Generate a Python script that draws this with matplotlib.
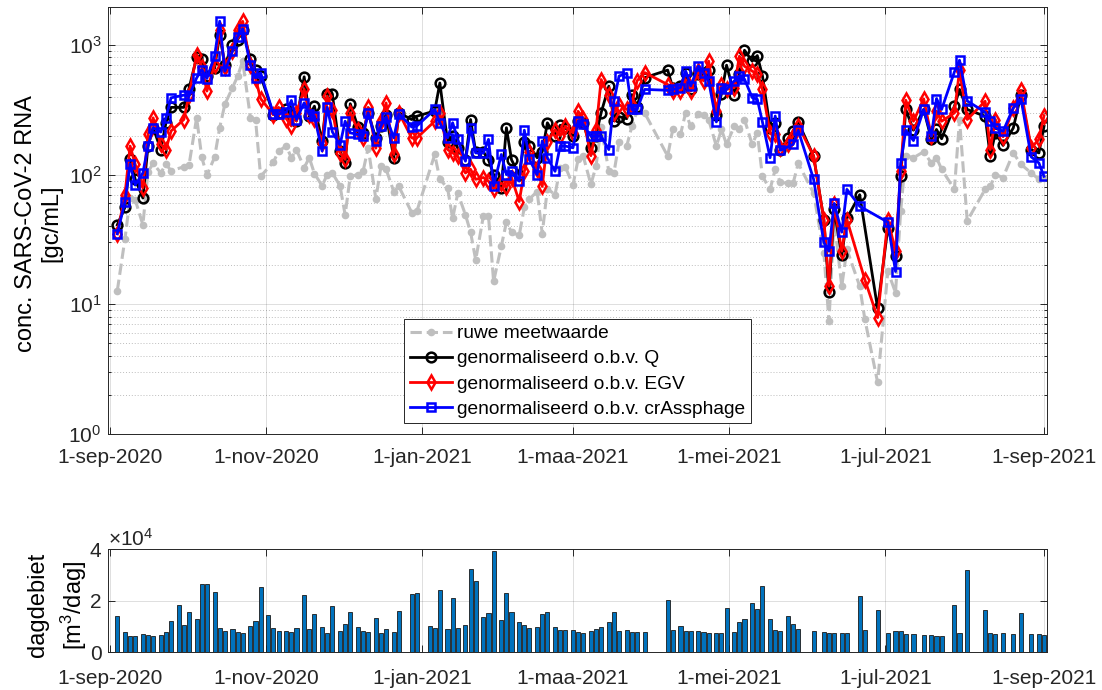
import numpy as np
import pandas as pd
import matplotlib
matplotlib.use("Agg")
import matplotlib.pyplot as plt
import matplotlib.dates as mdates
from matplotlib.ticker import FixedLocator, FuncFormatter, LogLocator, NullFormatter
from matplotlib.lines import Line2D

plt.rcParams["font.family"] = ["Liberation Sans", "DejaVu Sans"]
plt.rcParams["mathtext.default"] = "regular"

# --- meetdata rioolwater ---
monsterdatum = [
    # sep 2020
    "2020-09-04", "2020-09-07", "2020-09-09", "2020-09-11", "2020-09-14", "2020-09-16",
    "2020-09-18", "2020-09-21", "2020-09-23", "2020-09-25", "2020-09-30",
    # okt
    "2020-10-02", "2020-10-05", "2020-10-07", "2020-10-09", "2020-10-12", "2020-10-14",
    "2020-10-16", "2020-10-19", "2020-10-21", "2020-10-23", "2020-10-26", "2020-10-28",
    "2020-10-30",
    # nov
    "2020-11-04", "2020-11-06", "2020-11-09", "2020-11-11", "2020-11-13", "2020-11-16",
    "2020-11-18", "2020-11-20", "2020-11-23", "2020-11-25", "2020-11-27", "2020-11-30",
    # dec
    "2020-12-02", "2020-12-04", "2020-12-07", "2020-12-09", "2020-12-11", "2020-12-14",
    "2020-12-16", "2020-12-18", "2020-12-21", "2020-12-23", "2020-12-28", "2020-12-30",
    # jan 2021
    "2021-01-06", "2021-01-08", "2021-01-11", "2021-01-13", "2021-01-15", "2021-01-18",
    "2021-01-20", "2021-01-22", "2021-01-25", "2021-01-27", "2021-01-29",
    # feb
    "2021-02-01", "2021-02-03", "2021-02-05", "2021-02-08", "2021-02-10", "2021-02-12",
    "2021-02-15", "2021-02-17", "2021-02-19", "2021-02-22", "2021-02-24", "2021-02-26",
    # maa
    "2021-03-01", "2021-03-03", "2021-03-05", "2021-03-08", "2021-03-10", "2021-03-12",
    "2021-03-15", "2021-03-17", "2021-03-19", "2021-03-22", "2021-03-24", "2021-03-26",
    "2021-03-29",
    # apr
    "2021-04-07", "2021-04-09", "2021-04-12", "2021-04-14", "2021-04-16", "2021-04-19",
    "2021-04-21", "2021-04-23", "2021-04-26", "2021-04-28", "2021-04-30",
    # mei
    "2021-05-03", "2021-05-05", "2021-05-07", "2021-05-10", "2021-05-12", "2021-05-14",
    "2021-05-17", "2021-05-19", "2021-05-21", "2021-05-24", "2021-05-26", "2021-05-28",
    # jun
    "2021-06-03", "2021-06-07", "2021-06-09", "2021-06-11", "2021-06-14", "2021-06-16",
    "2021-06-21", "2021-06-23", "2021-06-28",
    # jul
    "2021-07-02", "2021-07-05", "2021-07-07", "2021-07-09", "2021-07-12", "2021-07-16",
    "2021-07-19", "2021-07-21", "2021-07-23", "2021-07-28", "2021-07-30",
    # aug
    "2021-08-02", "2021-08-09", "2021-08-11", "2021-08-13", "2021-08-16", "2021-08-20",
    "2021-08-23", "2021-08-27", "2021-08-30",
    # sep
    "2021-09-01",
]

nan = np.nan

# ruwe meetwaarde [gc/mL]
ruw = [
    12.7, 32, 66, 64, 41, 105, 122, 103, 121, 107, 115,
    118, 275, 136, 99, 136, 230, 348, 467, 574, 750, 275, 266, 97,
    125, 152, 166, 135, 155, 113, 135, 102, 82, 100, 103, 82,
    49, 97, 100, 106, 161, 65, 116, 110, 74, 81, 51, 52,
    143, 92, 79, 46, 72, 49, 36, 22, 48, 48, 15,
    28, 43, 36, 34, 56, 65, 74, 35, 78, 70, 113, 115,
    83, 131, 139, 84, 116, 233, 106, 103, 178, 166, 236, 308, 299,
    139, 225, 204, 299, 236, 294, 290, 266, 166, 223, 171,
    236, 223, 266, 171, 210, 97, 77, 110, 87, 86, 86, 122,
    72, 25, 7.4, 45, 13.8, 26.5, 13.8, 7.7, 2.5,
    18, 12.3, 52, 140, 135, 150, 123, 135, 110, 77, 266,
    44, 77, 81, 100, 95, 147, 120, 103, 92,
    95,
]

# genormaliseerd o.b.v. Q
norm_q = [
    41, 56, 131, 92, 66, 166, 230, 156, 250, 330, 330,
    460, 800, 780, 580, 660, 1200, 700, 1000, 1100, 1300, 780, 640, 580,
    290, 300, 320, 290, 260, 568, 282, 337, 181, 420, 415, 152,
    123, 352, 233, 210, 300, 190, 237, 290, 135, 300, 266, 282,
    310, 509, 180, 200, 160, 130, 266, 150, 150, 130, 100,
    79, 230, 130, 100, 180, 166, 135, 150, 251, 200, 240, 230,
    200, 260, 250, 161, 200, 300, 481, 260, 280, 270, 414, 330, 559,
    640, 466, 480, 608, 460, 600, 608, 645, 290, 420, 698,
    414, 600, 910, 750, 828, 580, 230, 251, 156, 190, 216, 254,
    139, 45, 12.4, 54, 23.8, 46, 70, nan, 9.3,
    39, 23.5, 97, 318, 220, 318, 187, 223, 189, 337, 454,
    318, 282, 139, 210, 168, 229, 414, 156, 147,
    236,
]

# genormaliseerd o.b.v. EGV
norm_egv = [
    35, 70, 166, 120, 79, 204, 274, 171, 156, 217, 266,
    410, 843, 680, 441, 700, 1314, 680, 900, 1300, 1520, 700, 550, 385,
    290, 330, 270, 237, 300, 454, 290, 270, 175, 403, 316, 147,
    131, 300, 220, 190, 330, 160, 260, 357, 143, 300, 192, 192,
    258, 300, 156, 147, 139, 103, 110, 92, 95, 89, 78,
    86, 80, 95, 62, 106, 150, 110, 81, 180, 222, 200, 236,
    210, 308, 270, 140, 220, 541, 414, 299, 347, 318, 347, 528, 612,
    495, 440, 440, 541, 440, 628, 528, 750, 308, 495, 454,
    469, 818, 685, 628, 600, 454, 210, 204, 161, 171, 200, 239,
    139, 45, 13.8, 59, 25.7, 45, nan, 15.5, 7.9,
    45, 25.7, 106, 375, 258, 384, 198, 308, 258, 299, 639,
    266, 368, 156, 266, 196, 327, 446, 161, 187,
    285,
]

# genormaliseerd o.b.v. crAssphage
norm_crass = [
    35, 62, 121, 83, 103, 166, 230, 213, 274, 391, 410,
    403, 557, 646, 551, 818, 1523, 628, 895, 1154, 1331, 706, 557, 609,
    294, 294, 303, 373, 266, 358, 291, 282, 152, 331, 214, 169,
    258, 210, 204, 198, 300, 182, 237, 280, 192, 295, 233, 237,
    318, 250, 192, 251, 187, 127, 230, 147, 147, 187, 82,
    143, 100, 106, 89, 220, 131, 100, 182, 135, 106, 166, 166,
    161, 259, 244, 198, 198, 198, 156, 369, 575, 604, 318, 318, 454,
    447, 454, 469, 630, 483, 689, 612, 528, 255, 467, 454,
    528, 578, 545, 393, 381, 255, 135, 283, 154, nan, 171, 219,
    92, 30, 25.7, 60, 36, 77, 57, nan, nan,
    43, 17.9, 123, 220, 183, 318, 198, 386, 318, 620, 762,
    370, 303, 258, 230, 216, 327, 384, 137, 123,
    97,
]

# dagdebiet [m3/dag]
debiet_datum = [
    "2020-09-04", "2020-09-07", "2020-09-09", "2020-09-11", "2020-09-14", "2020-09-16",
    "2020-09-18", "2020-09-21", "2020-09-23", "2020-09-25", "2020-09-28", "2020-09-30",
    "2020-10-02", "2020-10-05", "2020-10-07", "2020-10-09", "2020-10-12", "2020-10-14",
    "2020-10-16", "2020-10-19", "2020-10-21", "2020-10-23", "2020-10-26", "2020-10-28",
    "2020-10-30", "2020-11-02", "2020-11-04", "2020-11-06", "2020-11-09", "2020-11-11",
    "2020-11-13", "2020-11-16", "2020-11-18", "2020-11-20", "2020-11-23", "2020-11-25",
    "2020-11-27", "2020-11-30", "2020-12-02", "2020-12-04", "2020-12-07", "2020-12-09",
    "2020-12-11", "2020-12-14", "2020-12-16", "2020-12-18", "2020-12-21", "2020-12-23",
    "2020-12-28", "2020-12-30", "2021-01-04", "2021-01-06", "2021-01-08", "2021-01-11",
    "2021-01-13", "2021-01-15", "2021-01-18", "2021-01-20", "2021-01-22", "2021-01-25",
    "2021-01-27", "2021-01-29", "2021-02-01", "2021-02-03", "2021-02-05", "2021-02-08",
    "2021-02-10", "2021-02-12", "2021-02-15", "2021-02-17", "2021-02-19", "2021-02-22",
    "2021-02-24", "2021-02-26", "2021-03-01", "2021-03-03", "2021-03-05", "2021-03-08",
    "2021-03-10", "2021-03-12", "2021-03-15", "2021-03-17", "2021-03-19", "2021-03-22",
    "2021-03-24", "2021-03-26", "2021-03-29", "2021-03-31", "2021-04-02", "2021-04-05",
    "2021-04-07", "2021-04-09", "2021-04-12", "2021-04-14", "2021-04-16", "2021-04-19",
    "2021-04-21", "2021-04-23", "2021-04-26", "2021-04-28", "2021-04-30", "2021-05-03",
    "2021-05-05", "2021-05-07", "2021-05-10", "2021-05-12", "2021-05-14", "2021-05-17",
    "2021-05-19", "2021-05-21", "2021-05-24", "2021-05-26", "2021-05-28", "2021-06-03",
    "2021-06-07", "2021-06-09", "2021-06-11", "2021-06-14", "2021-06-16", "2021-06-21",
    "2021-06-23", "2021-06-28", "2021-07-02", "2021-07-05", "2021-07-07", "2021-07-09",
    "2021-07-12", "2021-07-16", "2021-07-19", "2021-07-21", "2021-07-23", "2021-07-28",
    "2021-07-30", "2021-08-02", "2021-08-09", "2021-08-11", "2021-08-13", "2021-08-16",
    "2021-08-20", "2021-08-23", "2021-08-27", "2021-08-30", "2021-09-01",
]
debiet = [
    14240, 7770, 6470, 6470, 6990, 6600, 6210, 6730, 7770, 12170, 18380, 10490,
    15790, 12940, 26540, 26410, 23560, 9320, 8410, 9060, 7900, 7640, 10360, 12170,
    25240, 14500, 9320, 8280, 8280, 7770, 9320, 22270, 9190, 14760, 9970, 7640,
    17990, 8280, 11130, 15660, 9710, 8160, 8030, 13460, 7510, 9060, 7770, 15920,
    22650, 22910, 10230, 9320, 24210, 9190, 21100, 9320, 10610, 32360, 27570, 13850,
    15140, 39220, 12430, 23170, 15530, 11650, 10490, 9320, 9840, 14760, 15660, 9680,
    8770, 8770, 8520, 8000, 7610, 8260, 8900, 9940, 11870, 15740, 8390, 8520,
    7740, 7740, 7870, 150, 150, 150, 20130, 8520, 10190, 8390, 8390, 8390,
    7870, 7480, 7610, 7480, 17160, 7740, 11740, 12900, 19230, 16900, 25800, 13030,
    8650, 8130, 13940, 10970, 9030, 8260, 8000, 7350, 7350, 7480, 7480, 22060,
    8650, 16390, 7480, 8260, 8260, 7100, 7230, 6710, 6710, 6190, 6190, 18320,
    7480, 32130, 16260, 7480, 7100, 7610, 6970, 15100, 6970, 6970, 6840,
]

tick_datum = ["2020-09-01", "2020-11-01", "2021-01-01", "2021-03-01",
              "2021-05-01", "2021-07-01", "2021-09-01"]
tick_tekst = ["1-sep-2020", "1-nov-2020", "1-jan-2021", "1-maa-2021",
              "1-mei-2021", "1-jul-2021", "1-sep-2021"]

datum = pd.to_datetime(monsterdatum)
ddatum = pd.to_datetime(debiet_datum)
ticks = mdates.date2num(pd.to_datetime(tick_datum))
xlim = (mdates.date2num(pd.Timestamp("2020-08-31 12:00")),
        mdates.date2num(pd.Timestamp("2021-09-02 01:00")))

asgrijs = "#262626"
fs = 15

fig = plt.figure(figsize=(11.02, 6.9), dpi=100)
ax1 = fig.add_axes([0.0983, 0.3710, 0.8515, 0.6184])
ax2 = fig.add_axes([0.0983, 0.0546, 0.8515, 0.1493])

series = [
    (ruw, dict(color="#BFBFBF", ls="--", lw=2.2, marker="o", ms=4.5,
               mfc="#BFBFBF", mec="#BFBFBF"), "ruwe meetwaarde"),
    (norm_q, dict(color="black", lw=2, marker="o", ms=7, mfc="none",
                  mew=1.8), "genormaliseerd o.b.v. Q"),
    (norm_egv, dict(color="red", lw=2, marker="d", ms=7.5, mfc="none",
                    mew=1.8), "genormaliseerd o.b.v. EGV"),
    (norm_crass, dict(color="blue", lw=2, marker="s", ms=6.3, mfc="none",
                      mew=1.8), "genormaliseerd o.b.v. crAssphage"),
]

handles = []
for waarden, stijl, naam in series:
    v = np.array(waarden, dtype=float)
    ok = ~np.isnan(v)
    ax1.plot(datum[ok], v[ok], **stijl)
    handles.append(Line2D([], [], **stijl, label=naam))

ax1.set_yscale("log")
ax1.set_ylim(1, 1950)
ax1.yaxis.set_major_locator(LogLocator(base=10, numticks=10))
ax1.yaxis.set_minor_locator(LogLocator(base=10, subs=np.arange(2, 10), numticks=20))
ax1.yaxis.set_major_formatter(FuncFormatter(lambda v, p: r"$10^{%d}$" % round(np.log10(v))))
ax1.yaxis.set_minor_formatter(NullFormatter())
ax1.set_ylabel("conc. SARS-CoV-2 RNA\n[gc/mL]", fontsize=17, linespacing=1.2)
ax1.yaxis.set_label_coords(-0.049, 0.493)

leg = ax1.legend(handles=handles, loc="lower left", bbox_to_anchor=(0.3154, 0.025),
                 fontsize=13.8, borderaxespad=0, borderpad=0.3, handlelength=2.2,
                 handletextpad=0.25, labelspacing=0.4, numpoints=1,
                 fancybox=False, framealpha=1)
leg.get_frame().set_edgecolor(asgrijs)
leg.get_frame().set_linewidth(0.7)

ax2.bar(ddatum, debiet, width=1.6, color="#0072BD", edgecolor="#1a1a1a", linewidth=0.6)
ax2.set_ylim(0, 40000)
ax2.yaxis.set_major_locator(FixedLocator([0, 20000, 40000]))
ax2.yaxis.set_major_formatter(FuncFormatter(lambda v, p: "%d" % round(v / 1e4)))
ax2.set_ylabel("dagdebiet\n[m$^3$/dag]", fontsize=17, linespacing=1.4)
ax2.yaxis.set_label_coords(-0.021, 0.46)
ax2.text(0.0, 1.0, r"$\times$10$^4$", transform=ax2.transAxes, fontsize=fs,
         ha="left", va="bottom", color=asgrijs)

for ax, xpad in ((ax1, 10), (ax2, 12)):
    ax.set_xlim(xlim)
    ax.xaxis.set_major_locator(FixedLocator(ticks))
    ax.set_xticklabels(tick_tekst)
    ax.tick_params(which="both", direction="in", top=True, right=True,
                   colors=asgrijs, labelsize=fs, width=0.7)
    ax.tick_params(which="major", length=5)
    ax.tick_params(which="minor", length=2.5)
    ax.tick_params(axis="x", pad=xpad)
    ax.tick_params(axis="y", pad=5)
    ax.grid(True, which="major", color=asgrijs, alpha=0.15, lw=0.7)
    for s in ax.spines.values():
        s.set_color(asgrijs)
        s.set_linewidth(0.7)
    ax.set_axisbelow(True)

ax1.grid(True, which="minor", axis="y", color=asgrijs, alpha=0.3, lw=0.7, ls=(0, (1, 2)))

fig.savefig("out.png", dpi=100)
